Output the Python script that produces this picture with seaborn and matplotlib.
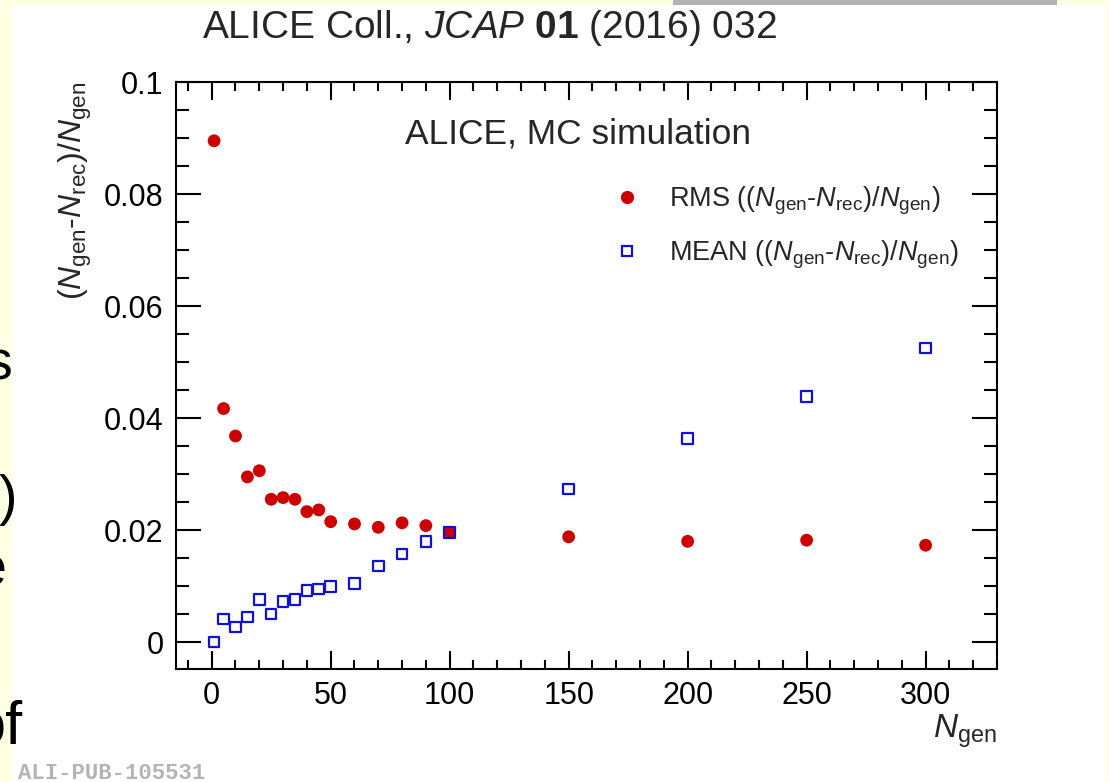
import matplotlib
matplotlib.use("Agg")
import matplotlib.pyplot as plt
from matplotlib.patches import Rectangle
from matplotlib.lines import Line2D
from matplotlib.ticker import MultipleLocator, FuncFormatter
import seaborn as sns

# Generated multiplicity bins
n_gen = [1, 5, 10, 15, 20, 25, 30, 35, 40, 45, 50, 60, 70, 80, 90, 100, 150, 200, 250, 300]
# RMS of (N_gen - N_rec)/N_gen
rms = [0.0895, 0.0417, 0.0368, 0.0295, 0.0306, 0.0255, 0.0258, 0.0255, 0.0233, 0.0236,
       0.0215, 0.0211, 0.0205, 0.0213, 0.0208, 0.0196, 0.0188, 0.0180, 0.0182, 0.0173]
# MEAN of (N_gen - N_rec)/N_gen
mean = [0.0000, 0.0041, 0.0027, 0.0045, 0.0076, 0.0050, 0.0072, 0.0076, 0.0092, 0.0095,
        0.0099, 0.0105, 0.0136, 0.0157, 0.0180, 0.0196, 0.0273, 0.0364, 0.0438, 0.0525]

rms_label = r"RMS (($N_{\rm gen}$-$N_{\rm rec}$)/$N_{\rm gen}$)"
mean_label = r"MEAN (($N_{\rm gen}$-$N_{\rm rec}$)/$N_{\rm gen}$)"
y_title = r"($N_{\rm gen}$-$N_{\rm rec}$)/$N_{\rm gen}$"
x_title = r"$N_{\rm gen}$"
header = r"ALICE Coll., $\mathit{JCAP}$ $\mathbf{01}$ (2016) 032"
annotation = "ALICE, MC simulation"
pub_id = "ALI-PUB-105531"
side_fragments = [("s", 12, 380, 40), (")", 17, 514, 40), ("e", 7, 586, 40),
                  (".", 4, 645, 40), ("of", 22, 744, 44)]

sns.set_style("ticks")
plt.rcParams["font.family"] = ["Liberation Sans", "DejaVu Sans"]
plt.rcParams["mathtext.fontset"] = "custom"
plt.rcParams["mathtext.rm"] = "Liberation Sans"
plt.rcParams["mathtext.sf"] = "Liberation Sans"
plt.rcParams["mathtext.it"] = "Liberation Sans:italic"
plt.rcParams["mathtext.bf"] = "Liberation Sans:bold"

RED = "#cc0000"
BLUE = "#1010d8"
PAGE = "#ffffe3"

W, H = 1109, 782
fig = plt.figure(figsize=(W / 100, H / 100), dpi=100, facecolor=PAGE)


def fx(px):
    return px / W


def fy(py):
    return 1 - py / H


# white slide area and grey bar on top
fig.patches.append(Rectangle((fx(12), 0), fx(1106) - fx(12), fy(5), transform=fig.transFigure,
                             facecolor="white", edgecolor="none", zorder=-10))
fig.patches.append(Rectangle((fx(673), fy(5)), fx(1057) - fx(673), 5 / H, transform=fig.transFigure,
                             facecolor="#b3b3b3", edgecolor="none", zorder=-10))

ax = fig.add_axes([fx(176), fy(669), fx(997) - fx(176), (669 - 82) / H])
ax.set_facecolor("white")

sns.scatterplot(x=n_gen, y=rms, ax=ax, marker="o", s=85, color=RED, edgecolor="none",
                linewidth=0, zorder=3, legend=False)
sns.scatterplot(x=n_gen, y=mean, ax=ax, marker="s", s=58, facecolor="none", edgecolor=BLUE,
                linewidth=1.6, zorder=4, legend=False)

ax.set_xlim(-15, 330)
ax.set_ylim(-0.0048, 0.1)
ax.xaxis.set_major_locator(MultipleLocator(50))
ax.xaxis.set_minor_locator(MultipleLocator(10))
ax.yaxis.set_major_locator(MultipleLocator(0.02))
ax.yaxis.set_minor_locator(MultipleLocator(0.005))
ax.yaxis.set_major_formatter(FuncFormatter(lambda v, p: "%g" % round(v, 4)))
ax.set_xlabel("")
ax.set_ylabel("")

for s in ax.spines.values():
    s.set_linewidth(1.5)
    s.set_color("black")
    s.set_visible(True)

ax.tick_params(which="both", direction="in", top=True, right=True, width=1.5,
               colors="black", labelsize=22)
ax.tick_params(axis="x", which="major", length=13, pad=9)
ax.tick_params(axis="x", which="minor", length=6.5)
ax.tick_params(axis="y", which="major", length=18, pad=9)
ax.tick_params(axis="y", which="minor", length=9.4)

handles = [
    Line2D([], [], linestyle="none", marker="o", markersize=9.5, markerfacecolor=RED,
           markeredgecolor="none", label=rms_label),
    Line2D([], [], linestyle="none", marker="s", markersize=7.5, markerfacecolor="none",
           markeredgecolor=BLUE, markeredgewidth=1.6, label=mean_label),
]
leg_size = 19.5
leg_px = leg_size * 100 / 72
ax.legend(handles=handles, loc="upper left",
          bbox_to_anchor=(fx(627 - 0.5 * leg_px), fy(185)),
          bbox_transform=fig.transFigure, frameon=False, fontsize=leg_size, borderpad=0,
          borderaxespad=0, handlelength=1.0, handletextpad=(42 - 0.5 * leg_px) / leg_px,
          labelspacing=0.78)

fig.text(fx(578), fy(143), annotation, fontsize=25.5, ha="center", va="baseline")
fig.text(fx(489), fy(38), header, fontsize=28, ha="center", va="baseline")
fig.text(fx(75), fy(82), y_title, fontsize=23, rotation=90, ha="center", va="top")
fig.text(fx(997), fy(738), x_title, fontsize=24, ha="right", va="baseline")
fig.text(fx(18), fy(779), pub_id, fontsize=16, family="Liberation Mono", weight="bold",
         color="#b4b4b4", ha="left", va="baseline")

for txt, right, base, size in side_fragments:
    fig.text(fx(right), fy(base), txt, fontsize=size, ha="right", va="baseline", color="black")

fig.savefig("out.png", dpi=100, facecolor=PAGE)
